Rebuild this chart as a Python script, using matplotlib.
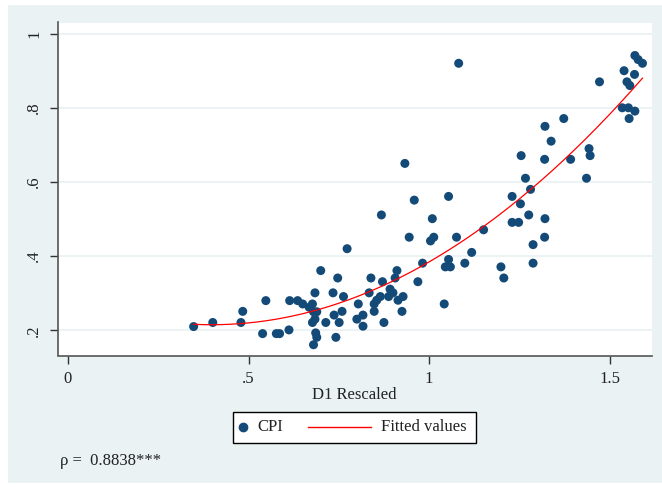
import numpy as np
import matplotlib
matplotlib.use("Agg")
import matplotlib.pyplot as plt
from matplotlib.patches import Rectangle
from matplotlib.lines import Line2D

# D1 Rescaled (x) and CPI (y)
d1 = [0.348, 0.401, 0.479, 0.484, 0.539, 0.548, 0.577, 0.586, 0.612, 0.614,
      0.636, 0.650, 0.668, 0.677, 0.680, 0.677, 0.684, 0.684, 0.689, 0.686,
      0.689, 0.680, 0.700, 0.714, 0.734, 0.737, 0.747, 0.742, 0.751, 0.759,
      0.763, 0.773, 0.800, 0.804, 0.817, 0.817, 0.834, 0.839, 0.848, 0.848,
      0.855, 0.865, 0.871, 0.868, 0.875, 0.888, 0.892, 0.900, 0.906, 0.911,
      0.914, 0.925, 0.928, 0.933, 0.945, 0.959, 0.969, 0.982, 1.004, 1.013,
      1.009, 1.042, 1.045, 1.054, 1.059, 1.054, 1.076, 1.082, 1.099, 1.118,
      1.151, 1.199, 1.207, 1.230, 1.230, 1.248, 1.253, 1.255, 1.267, 1.276,
      1.281, 1.288, 1.288, 1.320, 1.321, 1.320, 1.321, 1.338, 1.373, 1.392,
      1.436, 1.443, 1.446, 1.472, 1.540, 1.535, 1.552, 1.548, 1.556, 1.554,
      1.569, 1.570, 1.570, 1.579, 1.591]
cpi = [0.210, 0.221, 0.221, 0.251, 0.191, 0.280, 0.191, 0.191, 0.201, 0.280,
       0.280, 0.271, 0.262, 0.271, 0.250, 0.221, 0.230, 0.301, 0.250, 0.193,
       0.181, 0.161, 0.361, 0.221, 0.301, 0.241, 0.341, 0.181, 0.221, 0.251,
       0.291, 0.420, 0.230, 0.271, 0.241, 0.211, 0.301, 0.341, 0.251, 0.271,
       0.281, 0.291, 0.331, 0.511, 0.221, 0.291, 0.311, 0.301, 0.341, 0.361,
       0.281, 0.251, 0.291, 0.650, 0.451, 0.551, 0.331, 0.381, 0.441, 0.451,
       0.501, 0.271, 0.371, 0.391, 0.371, 0.561, 0.451, 0.920, 0.381, 0.410,
       0.471, 0.371, 0.341, 0.561, 0.491, 0.491, 0.541, 0.671, 0.610, 0.511,
       0.580, 0.431, 0.381, 0.451, 0.501, 0.661, 0.750, 0.710, 0.771, 0.661,
       0.610, 0.690, 0.671, 0.870, 0.900, 0.800, 0.800, 0.870, 0.860, 0.771,
       0.890, 0.791, 0.941, 0.930, 0.920]

x_ticks = [0, 0.5, 1, 1.5]
x_ticklabels = ["0", ".5", "1", "1.5"]
y_ticks = [0.2, 0.4, 0.6, 0.8, 1.0]
y_ticklabels = [".2", ".4", ".6", ".8", "1"]
legend_labels = ["CPI", "Fitted values"]
rho_text = "ρ =  0.8838***"

BG = "#EAF2F3"
NAVY = "#134a78"
RED = "#ff0000"
TXT = "#222222"
SERIF = ["Liberation Serif", "DejaVu Serif"]
FS = 12

W, H = 662, 487
fig = plt.figure(figsize=(W / 100, H / 100), dpi=100, facecolor="white")


def fx(px):
    return px / W


def fy(py):
    return 1 - py / H


fig.add_artist(Rectangle((fx(8), fy(483)), 1 - fx(8), fy(5) - fy(483),
                         transform=fig.transFigure, facecolor=BG,
                         edgecolor="none", zorder=-10))

left, right, top, bottom = 57.5, 651.5, 22.5, 355.5
ax = fig.add_axes([fx(left), fy(bottom), (right - left) / W, (bottom - top) / H])
ax.set_zorder(1)
ax.set_facecolor("white")

x = np.array(d1)
y = np.array(cpi)
coef = np.polyfit(x, y, 2)
xf = np.linspace(x.min(), x.max(), 200)
yf = np.polyval(coef, xf)

for yt in y_ticks:
    ax.axhline(yt, color=BG, lw=1.3, zorder=1)

ax.scatter(x, y, s=42, color=NAVY, edgecolors="none", zorder=3)
ax.plot(xf, yf, color=RED, lw=0.9, zorder=4)

ax.set_xlim(-0.029, 1.616)
ax.set_ylim(0.132, 1.030)
ax.set_xticks(x_ticks)
ax.set_xticklabels(x_ticklabels)
ax.set_yticks(y_ticks)
ax.set_yticklabels(y_ticklabels, rotation=90, va="center")

for s in ["top", "right"]:
    ax.spines[s].set_visible(False)
for s in ["left", "bottom"]:
    ax.spines[s].set_color("#555555")
    ax.spines[s].set_linewidth(1.2)

ax.tick_params(axis="both", direction="out", length=6, width=1, color="#333333",
               labelsize=FS, labelcolor=TXT, pad=5)
for lab in ax.get_xticklabels() + ax.get_yticklabels():
    lab.set_family(SERIF)

ax.set_xlabel("D1 Rescaled", family=SERIF, fontsize=FS, color=TXT, labelpad=0)

# legend box drawn in figure pixel positions
fig.add_artist(Rectangle((fx(233), fy(442.5)), fx(476) - fx(233), fy(411.5) - fy(442.5),
                         transform=fig.transFigure, facecolor="white",
                         edgecolor="black", lw=1, zorder=2))
fig.add_artist(Line2D([fx(243)], [fy(427)], marker="o", ls="none", color=NAVY,
                      markersize=6, transform=fig.transFigure, zorder=3))
fig.text(fx(257), fy(427), legend_labels[0], family=SERIF, fontsize=FS, color=TXT,
         va="center", ha="left", zorder=3)
fig.add_artist(Line2D([fx(308), fx(371)], [fy(427), fy(427)], color=RED, lw=1,
                      transform=fig.transFigure, zorder=3))
fig.text(fx(381), fy(427), legend_labels[1], family=SERIF, fontsize=FS, color=TXT,
         va="center", ha="left", zorder=3)

fig.text(fx(60), fy(461), rho_text, family=SERIF, fontsize=FS,
         color=TXT, va="center", ha="left")

fig.savefig("out.png", dpi=100, facecolor=fig.get_facecolor())
